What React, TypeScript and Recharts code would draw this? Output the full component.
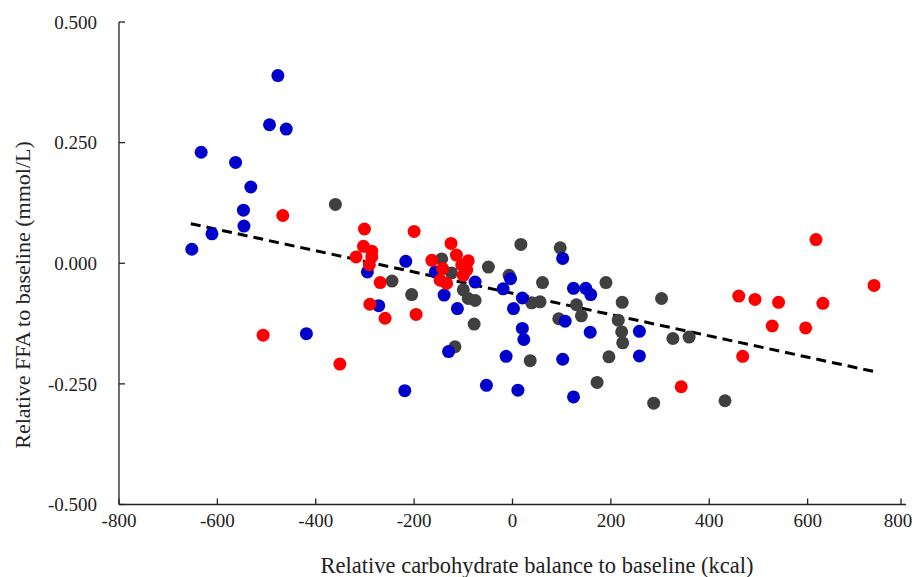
import React from 'react';
import { ScatterChart, Scatter, XAxis, YAxis, ReferenceLine } from 'recharts';

// values (kcal, mmol/L)
const blueX = [-477, -494, -460, -633, -563, -532, -547, -546, -611, -652, -419, -295, -217, -272, -157, -139, -112, -76, -130, -219, -53, -4, -19, 2, 20, 20, 23, -13, 11, 102, 124, 149, 159, 107, 158, 102, 124, 258, 258];
const blueY = [0.389, 0.287, 0.278, 0.23, 0.209, 0.158, 0.11, 0.077, 0.061, 0.029, -0.146, -0.018, 0.004, -0.088, -0.018, -0.066, -0.094, -0.039, -0.183, -0.264, -0.253, -0.032, -0.053, -0.094, -0.072, -0.135, -0.158, -0.193, -0.263, 0.01, -0.052, -0.052, -0.065, -0.12, -0.143, -0.199, -0.277, -0.141, -0.192];

const redX = [-467, -301, -507, -351, -303, -286, -318, -286, -291, -269, -290, -259, -196, -200, -125, -164, -114, -90, -103, -93, -100, -142, -147, -134, 343, 460, 493, 541, 528, 468, 617, 631, 596, 735];
const redY = [0.099, 0.071, -0.149, -0.209, 0.035, 0.025, 0.013, 0.013, -0.003, -0.04, -0.085, -0.114, -0.106, 0.066, 0.041, 0.006, 0.017, 0.005, -0.004, -0.014, -0.025, -0.011, -0.035, -0.042, -0.256, -0.068, -0.075, -0.081, -0.13, -0.193, 0.049, -0.083, -0.134, -0.046];

const grayX = [-360, -245, -205, -144, -124, -49, -100, -90, -76, -78, -117, 17, 97, -7, 61, 190, 39, 56, 130, 140, 94, 223, 215, 222, 224, 303, 326, 359, 36, 196, 172, 287, 432];
const grayY = [0.122, -0.037, -0.065, 0.009, -0.02, -0.008, -0.055, -0.073, -0.077, -0.126, -0.173, 0.039, 0.032, -0.025, -0.04, -0.04, -0.082, -0.08, -0.086, -0.109, -0.115, -0.081, -0.118, -0.142, -0.165, -0.073, -0.156, -0.153, -0.202, -0.194, -0.247, -0.29, -0.285];

// fitted trend line end points
const trendX = [-654, 733];
const trendY = [0.082, -0.224];

const xTicks = [-800, -600, -400, -200, 0, 200, 400, 600, 800];
const yTicks = [-0.5, -0.25, 0, 0.25, 0.5];

const toPoints = (xs: number[], ys: number[]) => xs.map((x, i) => ({ x, y: ys[i] }));
const blue = toPoints(blueX, blueY);
const red = toPoints(redX, redY);
const gray = toPoints(grayX, grayY);

const FONT = '"Liberation Serif", "Times New Roman", serif';
const INK = '#222';

const dot = (color: string) => (p: any) => <circle cx={p.cx} cy={p.cy} r={6.5} fill={color} />;

const XTick = (p: any) => {
  // keep the last label inside the window
  const shift = p.payload.value === 800 ? -3 : 0;
  return (
    <g>
      <line x1={p.x} y1={p.y} x2={p.x} y2={p.y - 6} stroke={INK} strokeWidth={1.3} />
      <text x={p.x + shift} y={p.y + 16} dy="0.35em" textAnchor="middle" fontFamily={FONT} fontSize={19} fill={INK}>
        {p.payload.value}
      </text>
    </g>
  );
};

const YTick = (p: any) => (
  <g>
    <line x1={p.x} y1={p.y} x2={p.x + 6} y2={p.y} stroke={INK} strokeWidth={1.3} />
    <text x={p.x - 22} y={p.y} dy="0.35em" textAnchor="end" fontFamily={FONT} fontSize={19} fill={INK}>
      {p.payload.value.toFixed(3)}
    </text>
  </g>
);

const XTitle = () => (
  <text x={529} y={557} dy="0.35em" textAnchor="middle" fontFamily={FONT} fontSize={22.5} fill={INK}>
    Relative carbohydrate balance to baseline (kcal)
  </text>
);

const YTitle = () => (
  <text x={14} y={287} dy="0.35em" textAnchor="middle" fontFamily={FONT} fontSize={22} fill={INK} transform="rotate(-90, 14, 287)">
    Relative FFA to baseline (mmol/L)
  </text>
);

export default function App() {
  return (
    <div style={{ width: 905, height: 569, background: '#fff' }}>
      <ScatterChart
        width={905}
        height={569}
        margin={{ top: 14, right: 7, bottom: 3, left: 31 }}
        style={{ overflow: 'visible' }}
      >
        <XAxis
          type="number"
          dataKey="x"
          domain={[-800, 800]}
          ticks={xTicks}
          tickSize={0}
          tickMargin={0}
          tick={<XTick />}
          height={69.5}
          stroke={INK}
          strokeWidth={1.3}
          label={<XTitle />}
        />
        <YAxis
          type="number"
          dataKey="y"
          domain={[-0.5, 0.5]}
          ticks={yTicks}
          tickSize={0}
          tickMargin={0}
          tick={<YTick />}
          width={80}
          stroke={INK}
          strokeWidth={1.3}
          label={<YTitle />}
        />
        <Scatter data={gray} fill="#404040" shape={dot('#404040')} isAnimationActive={false} />
        <Scatter data={blue} fill="#0000cc" shape={dot('#0000cc')} isAnimationActive={false} />
        <Scatter data={red} fill="#ff0000" shape={dot('#ff0000')} isAnimationActive={false} />
        <ReferenceLine
          segment={[
            { x: trendX[0], y: trendY[0] },
            { x: trendX[1], y: trendY[1] },
          ]}
          stroke="#000"
          strokeWidth={3}
          strokeDasharray="10 6"
        />
      </ScatterChart>
    </div>
  );
}
